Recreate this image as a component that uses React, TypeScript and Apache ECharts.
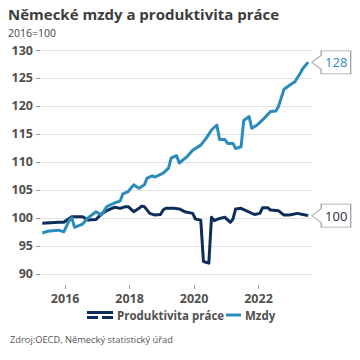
import React, { useEffect, useRef } from "react";
import * as echarts from "echarts";

const wageDates = [
  "2015-04", "2015-06", "2015-10", "2015-12", "2016-02", "2016-03", "2016-04", "2016-07",
  "2016-09", "2016-12", "2017-02", "2017-04", "2017-07", "2017-09", "2017-10", "2017-12",
  "2018-02", "2018-04", "2018-06", "2018-07", "2018-09", "2018-10", "2019-01", "2019-03",
  "2019-04", "2019-06", "2019-07", "2019-10", "2019-12", "2020-03", "2020-05", "2020-07",
  "2020-09", "2020-10", "2020-12", "2021-01", "2021-03", "2021-04", "2021-06", "2021-07",
  "2021-09", "2021-10", "2021-12", "2022-02", "2022-05", "2022-07", "2022-08", "2022-10",
  "2023-01", "2023-02", "2023-04", "2023-05", "2023-07",
];
const wageValues = [
  97.3, 97.6, 97.8, 97.5, 99.5, 100.0, 98.3, 98.9,
  100.0, 101.1, 100.5, 102.0, 102.7, 103.0, 104.3, 104.7,
  105.9, 105.3, 105.9, 107.1, 107.5, 107.3, 108.0, 108.9,
  110.7, 111.1, 109.8, 111.0, 112.1, 113.0, 114.2, 115.7,
  116.6, 114.0, 114.0, 113.3, 113.3, 112.4, 112.7, 117.4,
  118.1, 116.0, 116.6, 117.5, 119.0, 119.1, 120.0, 123.0,
  124.0, 124.3, 125.8, 126.7, 127.8,
];

const prodDates = [
  "2015-04", "2015-10", "2015-12", "2016-03", "2016-07", "2016-09", "2016-12", "2017-02",
  "2017-04", "2017-07", "2017-09", "2017-11", "2017-12", "2018-02", "2018-04", "2018-05",
  "2018-06", "2018-08", "2018-10", "2018-12", "2019-01", "2019-02", "2019-05", "2019-07",
  "2019-09", "2019-12", "2020-01", "2020-03", "2020-04", "2020-06", "2020-07", "2020-08",
  "2020-10", "2020-12", "2021-02", "2021-03", "2021-04", "2021-06", "2021-11", "2022-01",
  "2022-02", "2022-04", "2022-05", "2022-08", "2022-10", "2022-12", "2023-03", "2023-05",
  "2023-07",
];
const prodValues = [
  99.05, 99.2, 99.2, 100.2, 100.2, 99.6, 99.7, 100.7,
  101.3, 101.9, 101.7, 102.0, 102.0, 101.1, 101.7, 102.1,
  102.0, 100.8, 100.5, 100.6, 101.4, 101.7, 101.7, 101.6,
  101.1, 100.8, 99.8, 99.6, 92.2, 91.9, 100.1, 99.5,
  99.9, 100.1, 99.2, 99.8, 101.6, 101.7, 100.6, 100.8,
  101.8, 101.8, 101.4, 101.25, 100.5, 100.5, 100.8, 100.6,
  100.4,
];

const yearTicks = [2016, 2018, 2020, 2022];
const valueTicks = [90, 95, 100, 105, 110, 115, 120, 125, 130];

const TITLE = "Německé mzdy a produktivita práce";
const SUBTITLE = "2016=100";
const SOURCE = "Zdroj:OECD, Německý statistický úřad";
const PROD_NAME = "Produktivita práce";
const WAGE_NAME = "Mzdy";

const PROD_COLOR = "#0f2d59";
const WAGE_COLOR = "#2b8cbb";
const FONT = "'Open Sans', sans-serif";

const toYear = (s: string) => {
  const [y, m] = s.split("-").map(Number);
  return y + (m - 0.5) / 12;
};

const CALLOUT =
  "path://M0,11.5L9.5,4.5L9.5,0L39,0L39,23L9.5,23L9.5,18.5Z";

export default function App() {
  const ref = useRef<HTMLDivElement>(null);

  useEffect(() => {
    if (!ref.current) return;
    const chart = echarts.init(ref.current, null, { renderer: "svg" });

    const wageData = wageDates.map((d, i) => [toYear(d), wageValues[i]]);
    const prodData = prodDates.map((d, i) => [toYear(d), prodValues[i]]);
    const wLast = wageData[wageData.length - 1];
    const pLast = prodData[prodData.length - 1];

    const axisLabelStyle = {
      color: "#505050",
      fontWeight: "bold" as const,
      fontSize: 12.5,
      fontFamily: FONT,
    };
    const legendText = {
      fontFamily: FONT,
      fontSize: 11.5,
      fontWeight: "bold" as const,
      color: "#505050",
      padding: [0, 0, 0, -1],
    };

    chart.setOption({
      animation: false,
      title: [
        {
          text: TITLE,
          left: 8,
          top: 6,
          padding: 0,
          textStyle: { fontFamily: FONT, fontSize: 15, fontWeight: "bold", color: "#3d3d3d" },
        },
        {
          text: SUBTITLE,
          left: 8,
          top: 27,
          padding: 0,
          textStyle: { fontFamily: FONT, fontSize: 10.5, fontWeight: "normal", color: "#444" },
        },
        {
          text: SOURCE,
          left: 10,
          top: 335,
          padding: 0,
          textStyle: { fontFamily: FONT, fontSize: 9.3, fontWeight: "normal", color: "#555" },
        },
      ],
      legend: [
        {
          data: [
            {
              name: PROD_NAME,
              icon: "path://M0,0H26V3H0Z M0,5H11V8H0Z M15,5H26V8H15Z",
            },
          ],
          left: 87,
          top: 309,
          padding: 0,
          itemWidth: 26,
          itemHeight: 8,
          itemStyle: { borderWidth: 0 },
          textStyle: legendText,
        },
        {
          data: [{ name: WAGE_NAME, icon: "rect" }],
          left: 226,
          top: 309,
          padding: 0,
          itemWidth: 15,
          itemHeight: 3,
          itemStyle: { borderWidth: 0 },
          textStyle: legendText,
        },
      ],
      grid: { left: 40, right: 48, top: 50, bottom: 75 },
      xAxis: {
        type: "value",
        min: 2015.22,
        max: 2023.66,
        axisLine: { show: false },
        axisTick: { show: true, length: 4, lineStyle: { color: "#999" }, customValues: yearTicks },
        axisLabel: {
          ...axisLabelStyle,
          margin: 7,
          customValues: yearTicks,
          formatter: (v: number) => String(v),
        },
        splitLine: { show: false },
      },
      yAxis: {
        type: "value",
        min: 88,
        max: 130,
        axisLine: { show: false },
        axisTick: { show: true, length: 4, lineStyle: { color: "#999" }, customValues: valueTicks },
        axisLabel: { ...axisLabelStyle, margin: 7, customValues: valueTicks },
        splitLine: { show: true, lineStyle: { color: "#e2e2e2", width: 1 } },
      },
      series: [
        {
          name: PROD_NAME,
          type: "line",
          data: prodData,
          showSymbol: false,
          symbol: "none",
          color: PROD_COLOR,
          lineStyle: { color: PROD_COLOR, width: 3, join: "round" },
          markPoint: {
            symbol: CALLOUT,
            symbolSize: [39, 23],
            symbolOffset: [23, 0],
            itemStyle: { color: "#fff", borderColor: "#a0a0a0", borderWidth: 1 },
            label: {
              show: true,
              position: "inside",
              offset: [5, 0],
              color: "#1d2a3c",
              fontSize: 13,
              fontFamily: FONT,
              formatter: (p: any) => String(Math.round(p.value)),
            },
            data: [{ coord: pLast, value: pLast[1] }],
          },
        },
        {
          name: WAGE_NAME,
          type: "line",
          data: wageData,
          showSymbol: false,
          symbol: "none",
          color: WAGE_COLOR,
          lineStyle: { color: WAGE_COLOR, width: 3, join: "round" },
          markPoint: {
            symbol: CALLOUT,
            symbolSize: [39, 23],
            symbolOffset: [23, 0],
            itemStyle: { color: "#fff", borderColor: "#a0a0a0", borderWidth: 1 },
            label: {
              show: true,
              position: "inside",
              offset: [5, 0],
              color: WAGE_COLOR,
              fontSize: 13,
              fontFamily: FONT,
              formatter: (p: any) => String(Math.round(p.value)),
            },
            data: [{ coord: wLast, value: wLast[1] }],
          },
        },
      ],
    });

    return () => chart.dispose();
  }, []);

  return (
    <div
      ref={ref}
      style={{ position: "fixed", left: 0, top: 0, width: 360, height: 360, background: "#fff" }}
    />
  );
}
